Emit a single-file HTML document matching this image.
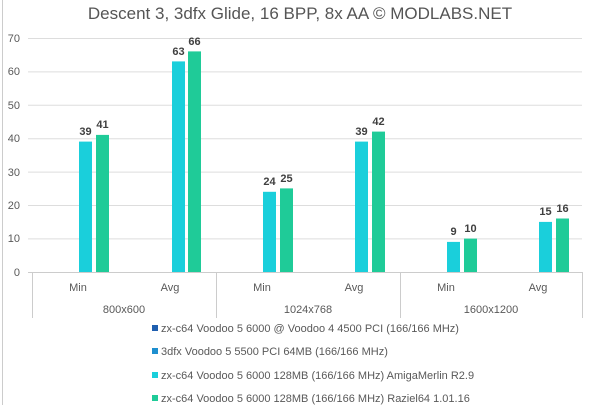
<!DOCTYPE html>
<html><head><style>
body{margin:0;background:#fff;font-family:"Liberation Sans",sans-serif;}
</style></head><body>
<svg width="600" height="405" xmlns="http://www.w3.org/2000/svg" font-family="Liberation Sans, sans-serif">
<rect x="0" y="0" width="600" height="405" fill="#fff"/>
<line x1="2.5" y1="0" x2="2.5" y2="405" stroke="#ccc"/>
<text x="300" y="19" text-anchor="middle" font-size="17" fill="#555">Descent 3, 3dfx Glide, 16 BPP, 8x AA © MODLABS.NET</text>
<g stroke="#ddd" stroke-width="1">
<line x1="28" x2="582" y1="38.5" y2="38.5"/>
<line x1="28" x2="582" y1="71.9" y2="71.9"/>
<line x1="28" x2="582" y1="105.3" y2="105.3"/>
<line x1="28" x2="582" y1="138.7" y2="138.7"/>
<line x1="28" x2="582" y1="172.1" y2="172.1"/>
<line x1="28" x2="582" y1="205.5" y2="205.5"/>
<line x1="28" x2="582" y1="238.9" y2="238.9"/>
</g>
<g stroke="#ccc">
<line x1="28" x2="582" y1="272.5" y2="272.5"/>
<line x1="32.5" x2="32.5" y1="272" y2="318"/>
<line x1="216.5" x2="216.5" y1="272" y2="318"/>
<line x1="400.5" x2="400.5" y1="272" y2="318"/>
<line x1="582.5" x2="582.5" y1="272" y2="318"/>
</g>
<g font-size="11" fill="#595959" text-anchor="end">
<text x="20" y="42">70</text><text x="20" y="75">60</text><text x="20" y="109">50</text><text x="20" y="142">40</text><text x="20" y="176">30</text><text x="20" y="209">20</text><text x="20" y="242">10</text><text x="20" y="276">0</text>
</g>
<g font-size="11" fill="#595959" text-anchor="middle">
<text x="78" y="291">Min</text><text x="170" y="291">Avg</text>
<text x="262" y="291">Min</text><text x="354" y="291">Avg</text>
<text x="446" y="291">Min</text><text x="538" y="291">Avg</text>
<text x="124" y="313">800x600</text><text x="308" y="313">1024x768</text><text x="491" y="313">1600x1200</text>
</g>
<g fill="#1ACFDB">
<rect x="79" y="141.6" width="13" height="130.4"/>
<rect x="172" y="61.4" width="13" height="210.6"/>
<rect x="263" y="191.8" width="13" height="80.2"/>
<rect x="355" y="141.6" width="13" height="130.4"/>
<rect x="447" y="241.9" width="13" height="30.1"/>
<rect x="539" y="221.9" width="13" height="50.1"/>
</g>
<g fill="#1FCB98">
<rect x="96" y="134.9" width="13" height="137.1"/>
<rect x="188" y="51.4" width="13" height="220.6"/>
<rect x="280" y="188.4" width="13" height="83.6"/>
<rect x="372" y="131.6" width="13" height="140.4"/>
<rect x="464" y="238.6" width="13" height="33.4"/>
<rect x="556" y="218.5" width="13" height="53.5"/>
</g>
<g font-size="11" font-weight="bold" fill="#404040" text-anchor="middle">
<text x="85.5" y="135">39</text><text x="102.5" y="128">41</text>
<text x="178.5" y="55">63</text><text x="194.5" y="45">66</text>
<text x="269.5" y="185">24</text><text x="286.5" y="182">25</text>
<text x="361.5" y="135">39</text><text x="378.5" y="125">42</text>
<text x="453.5" y="235">9</text><text x="470.5" y="232">10</text>
<text x="545.5" y="215">15</text><text x="562.5" y="212">16</text>
</g>
<g font-size="11" fill="#595959">
<rect x="152" y="325" width="6" height="6" fill="#1F5FAF"/><text x="161" y="332">zx-c64 Voodoo 5 6000 @ Voodoo 4 4500 PCI (166/166 MHz)</text>
<rect x="152" y="348" width="6" height="6" fill="#1E8FCF"/><text x="161" y="355">3dfx Voodoo 5 5500 PCI 64MB (166/166 MHz)</text>
<rect x="152" y="372" width="6" height="6" fill="#1ACFDB"/><text x="161" y="379">zx-c64 Voodoo 5 6000 128MB (166/166 MHz) AmigaMerlin R2.9</text>
<rect x="152" y="395" width="6" height="6" fill="#1FCB98"/><text x="161" y="402">zx-c64 Voodoo 5 6000 128MB (166/166 MHz) Raziel64 1.01.16</text>
</g>
</svg>
</body></html>
